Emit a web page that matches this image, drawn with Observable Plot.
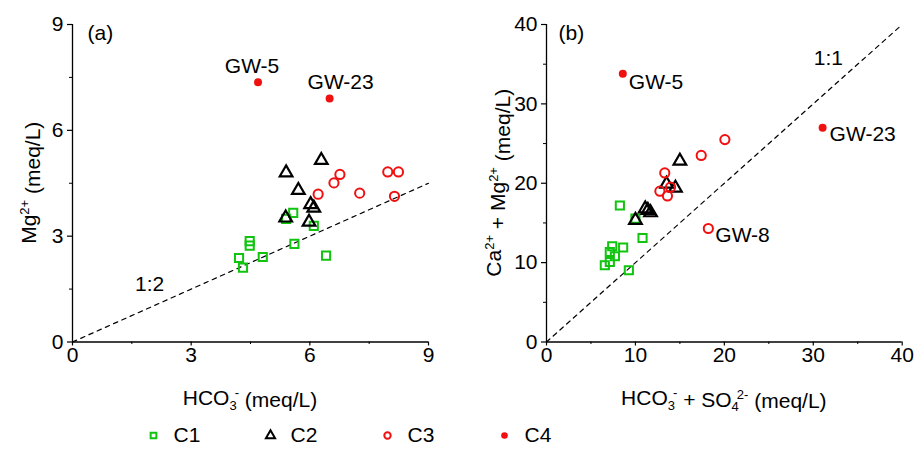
<!DOCTYPE html>
<html><head><meta charset="utf-8">
<script src="https://cdn.jsdelivr.net/npm/d3@7"></script>
<script src="https://cdn.jsdelivr.net/npm/@observablehq/plot@0.6"></script>
<style>
body{margin:0;background:#fff;}
#wrap{width:916px;height:455px;overflow:hidden;background:#fff;}
#row{display:flex;}
svg{display:block;}
</style></head><body><div id="wrap"><div id="row"></div><div id="leg"></div></div>
<script>
const groups = ["C1", "C2", "C3", "C4"];
// Panel (a): HCO3- vs Mg2+
const aC1x = [5.58, 5.40, 6.10, 4.48, 4.48, 5.61, 4.81, 4.21, 4.31, 6.41];
const aC1y = [3.66, 3.49, 3.29, 2.86, 2.73, 2.78, 2.41, 2.38, 2.11, 2.45];
const aC2x = [6.29, 5.40, 5.71, 6.02, 6.10, 5.39, 5.98];
const aC2y = [5.15, 4.80, 4.30, 3.90, 3.80, 3.52, 3.40];
const aC3x = [6.76, 6.61, 6.21, 7.26, 7.97, 8.24, 8.14];
const aC3y = [4.75, 4.51, 4.19, 4.22, 4.82, 4.82, 4.13];
const aC4x = [4.69, 6.50];
const aC4y = [7.36, 6.90];
const aC4labels = ["GW-5", "GW-23"];
// Panel (b): HCO3- + SO4 2- vs Ca2+ + Mg2+
const bC1x = [8.25, 10.0, 10.8, 7.39, 8.62, 7.12, 7.69, 7.12, 6.56, 9.26];
const bC1y = [17.2, 15.55, 13.1, 12.06, 11.9, 11.34, 10.8, 10.08, 9.67, 9.04];
const bC2x = [15.0, 13.5, 14.5, 11.1, 11.4, 11.7, 10.0];
const bC2y = [22.8, 19.9, 19.4, 16.8, 16.6, 16.3, 15.35];
const bC3x = [20.06, 17.4, 13.3, 13.95, 12.75, 13.6, 18.2];
const bC3y = [25.5, 23.5, 21.3, 19.5, 19.0, 18.4, 14.3];
const bC3labels = ["", "", "", "", "", "", "GW-8"];
const bC4x = [8.58, 31.05];
const bC4y = [33.8, 27.0];
const bC4labels = ["GW-5", "GW-23"];
// Axes
const aXTicks = [0, 3, 6, 9], aXMinor = [1.5, 4.5, 7.5];
const aYTicks = [0, 3, 6, 9], aYMinor = [1.5, 4.5, 7.5];
const bXTicks = [0, 10, 20, 30, 40], bXMinor = [5, 15, 25, 35];
const bYTicks = [0, 10, 20, 30, 40], bYMinor = [5, 15, 25, 35];
const ratioA = 0.5, ratioB = 1;
const lineA = {label: "1:2", x: 1.95, y: 1.63};
const lineB = {label: "1:1", x: 31.7, y: 35.75};

const GREEN = "#10c410", RED = "#f01010", BLACK = "#000";
const FONT = "'Liberation Sans', Arial, sans-serif";

const rows = (xs, ys, labels) => xs.map((x, i) => ({x, y: ys[i], label: labels ? labels[i] : ""}));

function panel(o) {
  const ref = o.xTicks.map(x => ({x, y: x * o.ratio})).filter(d => d.y <= o.yTicks[o.yTicks.length - 1]);
  const refLine = [ref[0], ref[ref.length - 1]];
  return Plot.plot({
    width: 458, height: 415,
    marginLeft: o.ml, marginRight: o.mr, marginTop: 24, marginBottom: 73.5,
    x: {domain: [o.xTicks[0], o.xTicks[o.xTicks.length - 1]], axis: null},
    y: {domain: [o.yTicks[0], o.yTicks[o.yTicks.length - 1]], axis: null},
    style: {fontFamily: FONT, fontSize: "21px", color: "#000", background: "#fff", overflow: "visible"},
    marks: [
      Plot.line(refLine, {x: "x", y: "y", stroke: "#000", strokeWidth: 1.2, strokeDasharray: "4.5,4.5"}),
      Plot.text([o.lineLabel], {x: "x", y: "y", text: "label"}),
      Plot.axisX({ticks: o.xTicks, tickSize: 4, tickPadding: 1, label: null, stroke: "#000", strokeWidth: 1.2}),
      Plot.axisX({ticks: o.xMinor, tickSize: 2.5, text: null, label: null, stroke: "#000"}),
      Plot.axisY({ticks: o.yTicks, tickSize: 5, tickPadding: 4, label: null, stroke: "#000", strokeWidth: 1.2}),
      Plot.axisY({ticks: o.yMinor, tickSize: 3, text: null, label: null, stroke: "#000"}),
      Plot.ruleX([o.xTicks[0]], {stroke: "#000", strokeWidth: 1.3}),
      Plot.ruleY([o.yTicks[0]], {stroke: "#000", strokeWidth: 1.3}),
      Plot.dot(o.c1, {x: "x", y: "y", symbol: "square", r: 4.6, stroke: GREEN, strokeWidth: 2, fill: "none"}),
      Plot.dot(o.c2, {x: "x", y: "y", symbol: "triangle", r: 4.7, stroke: BLACK, strokeWidth: 2.2, fill: "none"}),
      Plot.dot(o.c3, {x: "x", y: "y", symbol: "circle", r: 4.6, stroke: RED, strokeWidth: 2, fill: "none"}),
      Plot.dot(o.c4, {x: "x", y: "y", symbol: "circle", r: 4, fill: RED}),
      ...o.labelMarks,
      Plot.text([o.tag], {frameAnchor: "top-left", text: d => d, dx: o.tagDx, dy: 1, lineAnchor: "top"})
    ]
  });
}

function richText(svg, x, y, parts, rotate) {
  const t = d3.select(svg).append("text")
    .attr("font-family", FONT).attr("font-size", 21).attr("fill", "#000")
    .attr("text-anchor", "middle")
    .attr("transform", `translate(${x},${y})` + (rotate ? " rotate(-90)" : ""));
  parts.forEach(([s, kind]) => {
    const ts = t.append("tspan").text(s);
    if (kind === "sup") ts.attr("font-size", 13).attr("dy", "-0.55em");
    if (kind === "sub") ts.attr("font-size", 13).attr("dy", "0.35em");
  });
  return t;
}

const a = panel({
  ml: 72, mr: 30, xTicks: aXTicks, xMinor: aXMinor, yTicks: aYTicks, yMinor: aYMinor,
  ratio: ratioA, lineLabel: lineA, tag: "(a)", tagDx: 15,
  c1: rows(aC1x, aC1y), c2: rows(aC2x, aC2y), c3: rows(aC3x, aC3y), c4: rows(aC4x, aC4y, aC4labels),
  labelMarks: [
    Plot.text(rows(aC4x, aC4y, aC4labels).slice(0, 1), {x: "x", y: "y", text: "label", dx: -6, dy: -16}),
    Plot.text(rows(aC4x, aC4y, aC4labels).slice(1), {x: "x", y: "y", text: "label", dx: 11, dy: -16})
  ]
});
const b = panel({
  ml: 88, mr: 14.3, xTicks: bXTicks, xMinor: bXMinor, yTicks: bYTicks, yMinor: bYMinor,
  ratio: ratioB, lineLabel: lineB, tag: "(b)", tagDx: 12,
  c1: rows(bC1x, bC1y), c2: rows(bC2x, bC2y), c3: rows(bC3x, bC3y, bC3labels), c4: rows(bC4x, bC4y, bC4labels),
  labelMarks: [
    Plot.text(rows(bC4x, bC4y, bC4labels).slice(0, 1), {x: "x", y: "y", text: "label", textAnchor: "start", dx: 6, dy: 9}),
    Plot.text(rows(bC4x, bC4y, bC4labels).slice(1), {x: "x", y: "y", text: "label", textAnchor: "start", dx: 7, dy: 7}),
    Plot.text(rows(bC3x, bC3y, bC3labels).filter(d => d.label), {x: "x", y: "y", text: "label", textAnchor: "start", dx: 7, dy: 7})
  ]
});

document.getElementById("row").append(a, b);

// Axis titles (rich text with sub/superscripts)
{
  const xa = a.scale("x"), ya = a.scale("y"), xb = b.scale("x"), yb = b.scale("y");
  const axm = (xa.range[0] + xa.range[1]) / 2, aym = (ya.range[0] + ya.range[1]) / 2;
  const bxm = (xb.range[0] + xb.range[1]) / 2, bym = (yb.range[0] + yb.range[1]) / 2;
  const t1 = richText(a, axm, 405, [["HCO"], ["3", "sub"], ["-"], [" (meq/L)"]]);
  t1.selectAll("tspan").filter((d, i) => i === 2).attr("font-size", 13).attr("dy", "-0.95em").attr("dx", "-2");
  t1.selectAll("tspan").filter((d, i) => i === 3).attr("dy", "0.45em");
  const t2 = richText(b, bxm, 405, [["HCO"], ["3", "sub"], ["-"], [" + SO"], ["4", "sub"], ["2-"], [" (meq/L)"]]);
  t2.selectAll("tspan").filter((d, i) => i === 2).attr("font-size", 13).attr("dy", "-0.95em").attr("dx", "-2");
  t2.selectAll("tspan").filter((d, i) => i === 3).attr("dy", "0.45em");
  t2.selectAll("tspan").filter((d, i) => i === 5).attr("font-size", 13).attr("dy", "-0.95em").attr("dx", "-2");
  t2.selectAll("tspan").filter((d, i) => i === 6).attr("dy", "0.45em");
  const t3 = richText(a, 36, aym, [["Mg"], ["2+", "sup"], [" (meq/L)"]], true);
  t3.selectAll("tspan").filter((d, i) => i === 2).attr("dy", "0.55em");
  const t4 = richText(b, 43, bym, [["Ca"], ["2+", "sup"], [" + Mg"], ["2+", "sup"], [" (meq/L)"]], true);
  t4.selectAll("tspan").filter((d, i) => i === 2 || i === 4).attr("dy", "0.55em");
}

// Legend
const leg = Plot.plot({
  width: 916, height: 40, margin: 0,
  x: {type: "point", domain: groups, range: [152, 505], padding: 0, axis: null},
  style: {fontFamily: FONT, fontSize: "21px", color: "#000", background: "#fff"},
  marks: [
    Plot.dot(["C1"], {x: d => d, symbol: "square", r: 3.2, stroke: GREEN, strokeWidth: 2, fill: "none"}),
    Plot.dot(["C2"], {x: d => d, symbol: "triangle", r: 3.4, stroke: BLACK, strokeWidth: 2, fill: "none"}),
    Plot.dot(["C3"], {x: d => d, symbol: "circle", r: 3.2, stroke: RED, strokeWidth: 2, fill: "none"}),
    Plot.dot(["C4"], {x: d => d, symbol: "circle", r: 3.3, fill: RED}),
    Plot.text(groups, {x: d => d, text: d => d, textAnchor: "start", dx: 20})
  ]
});
document.getElementById("leg").append(leg);
</script></body></html>
